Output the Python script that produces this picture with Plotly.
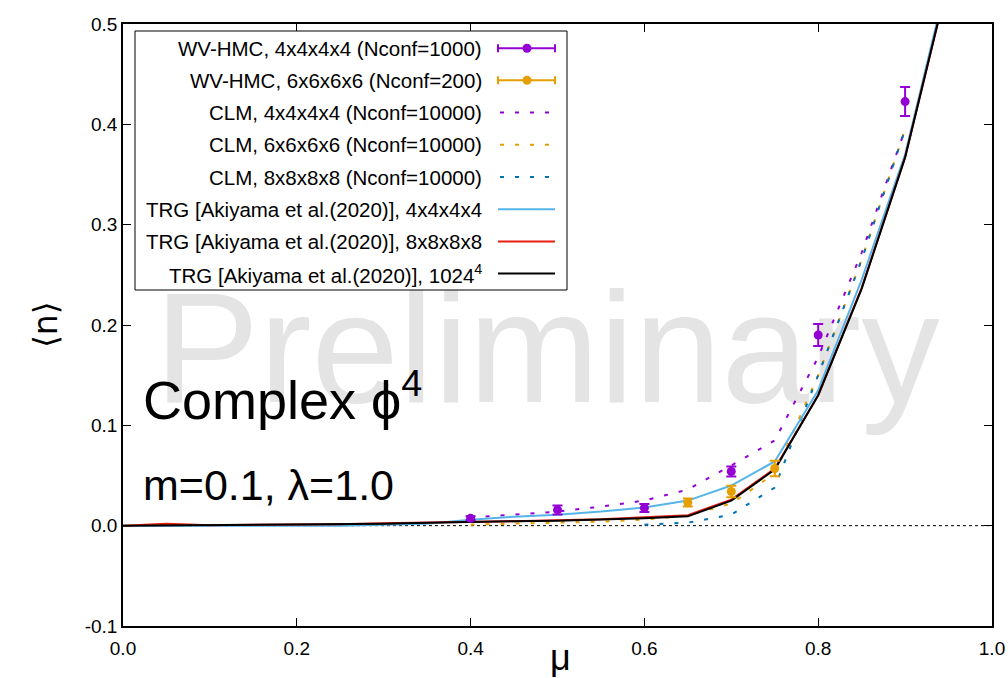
import plotly.graph_objects as go

# ---------------- data ----------------
mu_wv4 = [0.4, 0.5, 0.6, 0.7, 0.8, 0.9]
n_wv4 = [0.0073, 0.0157, 0.0177, 0.054, 0.190, 0.4227]
err_wv4 = [0.002, 0.0045, 0.004, 0.005, 0.011, 0.0145]

mu_wv6 = [0.65, 0.7, 0.75]
n_wv6 = [0.023, 0.034, 0.057]
err_wv6 = [0.004, 0.0058, 0.0078]

mu_clm = [0.4, 0.45, 0.5, 0.55, 0.6, 0.65, 0.7, 0.75, 0.8, 0.85, 0.9]
n_clm4 = [0.008, 0.011, 0.014, 0.019, 0.025, 0.036, 0.060, 0.085, 0.168, 0.272, 0.395]
n_clm6 = [0.001, 0.002, 0.003, 0.004, 0.006, 0.010, 0.022, 0.052, 0.150, 0.265, 0.395]
mu_clm8 = [0.6, 0.65, 0.7, 0.75, 0.8, 0.85, 0.9]
n_clm8 = [0.001, 0.003, 0.011, 0.038, 0.150, 0.265, 0.395]

mu_trg = [0.0, 0.05, 0.1, 0.15, 0.2, 0.25, 0.3, 0.35, 0.4, 0.45, 0.5,
          0.55, 0.6, 0.65, 0.7, 0.75, 0.8, 0.85, 0.9, 0.95]
n_trg4 = [0.0, 0.0, 0.0, 0.0, 0.0, 0.0, 0.001, 0.002, 0.006, 0.009, 0.011,
          0.014, 0.018, 0.025, 0.040, 0.064, 0.135, 0.245, 0.370, 0.550]
n_trg8 = [0.0, 0.002, 0.0005, 0.0008, 0.001, 0.0015, 0.0025, 0.003, 0.0035, 0.0045, 0.0055,
          0.0065, 0.0085, 0.0105, 0.026, 0.057, 0.130, 0.237, 0.367, 0.545]
n_trg1024 = [0.0, 0.0003, 0.0006, 0.0009, 0.0012, 0.0015, 0.002, 0.003, 0.004, 0.0045, 0.005,
             0.006, 0.0075, 0.0093, 0.025, 0.056, 0.130, 0.236, 0.367, 0.545]

x_ticks = [0.0, 0.2, 0.4, 0.6, 0.8, 1.0]
x_ticktext = ["0.0", "0.2", "0.4", "0.6", "0.8", "1.0"]
y_ticks = [-0.1, 0.0, 0.1, 0.2, 0.3, 0.4, 0.5]
y_ticktext = ["-0.1", "0.0", "0.1", "0.2", "0.3", "0.4", "0.5"]

legend_labels = [
    "WV-HMC, 4x4x4x4 (Nconf=1000)",
    "WV-HMC, 6x6x6x6 (Nconf=200)",
    "CLM, 4x4x4x4 (Nconf=10000)",
    "CLM, 6x6x6x6 (Nconf=10000)",
    "CLM, 8x8x8x8 (Nconf=10000)",
    "TRG [Akiyama et al.(2020)], 4x4x4x4",
    "TRG [Akiyama et al.(2020)], 8x8x8x8",
    "TRG [Akiyama et al.(2020)], 1024<sup>4</sup>",
]

# ---------------- style ----------------
PURPLE = "#9400d3"
ORANGE = "#e69f00"
BLUE = "#0072b2"
LBLUE = "#56b4e9"
RED = "#e51e10"
BLACK = "#000000"
FONT = "Liberation Sans"
DOT = "4px,11px"

W, H = 1008, 678
L, R, T, B = 123, 16, 24, 52
PW, PH = W - L - R, H - T - B


def px(x):
    return (x - L) / PW


def py(y):
    return (H - B - y) / PH


fig = go.Figure()

# watermark (drawn first so it is behind the data)
fig.add_trace(go.Scatter(x=[0.488], y=[0.162], mode="text", text=["Preliminary"],
                         textfont=dict(size=157, color="#e4e4e4", family=FONT),
                         hoverinfo="skip", showlegend=False, cliponaxis=False))

# CLM dotted
fig.add_trace(go.Scatter(x=mu_clm, y=n_clm4, mode="lines",
                         line=dict(color=PURPLE, width=2, dash=DOT), showlegend=False))
fig.add_trace(go.Scatter(x=mu_clm, y=n_clm6, mode="lines",
                         line=dict(color=ORANGE, width=2, dash=DOT), showlegend=False))
fig.add_trace(go.Scatter(x=mu_clm8, y=n_clm8, mode="lines",
                         line=dict(color=BLUE, width=2, dash=DOT), showlegend=False))

# TRG lines
fig.add_trace(go.Scatter(x=mu_trg, y=n_trg4, mode="lines",
                         line=dict(color=LBLUE, width=2), showlegend=False))
fig.add_trace(go.Scatter(x=mu_trg, y=n_trg8, mode="lines",
                         line=dict(color=RED, width=2), showlegend=False))
fig.add_trace(go.Scatter(x=mu_trg, y=n_trg1024, mode="lines",
                         line=dict(color=BLACK, width=2), showlegend=False))

# WV-HMC points
fig.add_trace(go.Scatter(x=mu_wv6, y=n_wv6, mode="markers",
                         marker=dict(color=ORANGE, size=9),
                         error_y=dict(type="data", array=err_wv6, color=ORANGE, thickness=2, width=5),
                         showlegend=False))
fig.add_trace(go.Scatter(x=mu_wv4, y=n_wv4, mode="markers",
                         marker=dict(color=PURPLE, size=9),
                         error_y=dict(type="data", array=err_wv4, color=PURPLE, thickness=2, width=5),
                         showlegend=False))

shapes = []
annotations = []

# zero axis
shapes.append(dict(type="line", xref="x", yref="y", x0=0, x1=1, y0=0, y1=0,
                   line=dict(color="black", width=1, dash="dot"), layer="below"))

# manual legend (gnuplot style: text right, sample on the right)
box_l, box_r, box_t, box_b = 135, 567, 31, 290
shapes.append(dict(type="rect", xref="paper", yref="paper",
                   x0=px(box_l), x1=px(box_r), y0=py(box_b), y1=py(box_t),
                   line=dict(color="black", width=1), fillcolor="white", layer="above"))
row_y = [48.3, 80.3, 112.5, 144.7, 177.0, 209.2, 241.4, 273.5]
text_r = 484
s0, s1, sm = 498, 555, 527
sample_styles = [
    ("err", PURPLE), ("err", ORANGE),
    ("dot", PURPLE), ("dot", ORANGE), ("dot", BLUE),
    ("line", LBLUE), ("line", RED), ("line", BLACK),
]
for lab, ry, (kind, col) in zip(legend_labels, row_y, sample_styles):
    annotations.append(dict(xref="paper", yref="paper", x=px(text_r), y=py(ry),
                            xanchor="right", yanchor="middle", text=lab, showarrow=False,
                            font=dict(family=FONT, size=20.5, color="black")))
    if kind == "err":
        shapes.append(dict(type="line", xref="paper", yref="paper",
                           x0=px(s0), x1=px(s1), y0=py(ry), y1=py(ry),
                           line=dict(color=col, width=2)))
        for xe in (s0, s1):
            shapes.append(dict(type="line", xref="paper", yref="paper",
                               x0=px(xe), x1=px(xe), y0=py(ry - 4), y1=py(ry + 4),
                               line=dict(color=col, width=2)))
        shapes.append(dict(type="circle", xref="paper", yref="paper",
                           x0=px(sm - 4.5), x1=px(sm + 4.5), y0=py(ry + 4.5), y1=py(ry - 4.5),
                           line=dict(color=col, width=0), fillcolor=col))
    elif kind == "dot":
        shapes.append(dict(type="line", xref="paper", yref="paper",
                           x0=px(s0 + 2), x1=px(s1), y0=py(ry), y1=py(ry),
                           line=dict(color=col, width=2, dash=DOT)))
    else:
        shapes.append(dict(type="line", xref="paper", yref="paper",
                           x0=px(s0), x1=px(s1), y0=py(ry), y1=py(ry),
                           line=dict(color=col, width=2)))

# in-plot labels
annotations.append(dict(xref="paper", yref="paper", x=px(141), y=py(432),
                        xanchor="left", yanchor="bottom",
                        text="Complex ϕ<sup>4</sup>", showarrow=False,
                        font=dict(family=FONT, size=54, color="black")))
annotations.append(dict(xref="paper", yref="paper", x=px(141), y=py(511),
                        xanchor="left", yanchor="bottom",
                        text="m=0.1, λ=1.0", showarrow=False,
                        font=dict(family=FONT, size=43, color="black")))

# axis titles
annotations.append(dict(xref="paper", yref="paper", x=px(45), y=py(325),
                        xanchor="center", yanchor="middle", textangle=-90,
                        text="⟨n⟩", showarrow=False,
                        font=dict(family="DejaVu Sans", size=33, color="black")))
annotations.append(dict(xref="paper", yref="paper", x=px(560), y=py(658),
                        xanchor="center", yanchor="middle",
                        text="μ", showarrow=False,
                        font=dict(family=FONT, size=36, color="black")))

axis_common = dict(showgrid=False, zeroline=False, showline=True, linecolor="black",
                   linewidth=1.5, mirror="allticks", ticks="inside", ticklen=8,
                   tickwidth=1, tickcolor="black",
                   tickfont=dict(family=FONT, size=19, color="black"))

fig.update_layout(
    width=W, height=H, autosize=False,
    margin=dict(l=L, r=R, t=T, b=B, autoexpand=False),
    plot_bgcolor="white", paper_bgcolor="white",
    xaxis=dict(range=[0, 1], tickvals=x_ticks, ticktext=x_ticktext,
               ticklabelstandoff=4, **axis_common),
    yaxis=dict(range=[-0.1, 0.5], tickvals=y_ticks, ticktext=y_ticktext, **axis_common),
    shapes=shapes, annotations=annotations, showlegend=False,
)

fig.write_html("out.html",
               config={"displayModeBar": False, "responsive": False},
               post_script="document.body.style.margin='0';document.body.style.padding='0';"
                           "document.body.style.overflow='hidden';")
